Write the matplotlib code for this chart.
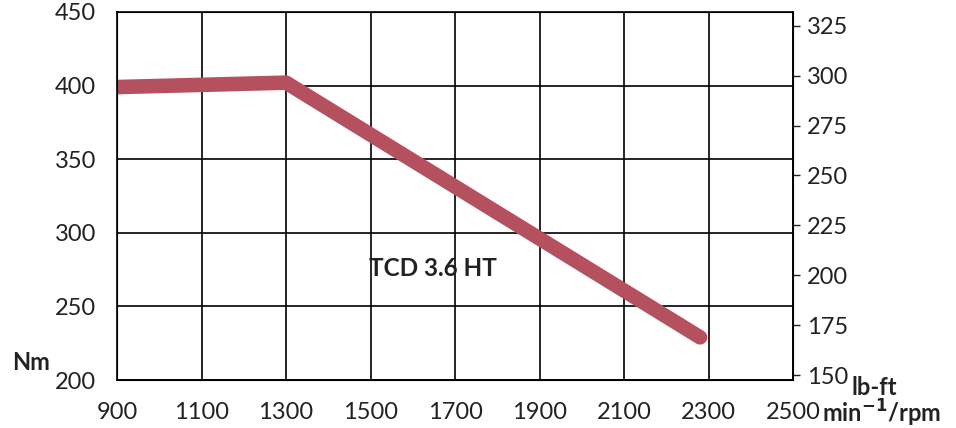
import matplotlib
matplotlib.use("Agg")
import matplotlib.pyplot as plt

plt.rcParams["font.family"] = ["Lato", "DejaVu Sans"]

# torque curve
rpm = [900, 1300, 2280]
torque_nm = [399, 402, 229]

x_ticks = [900, 1100, 1300, 1500, 1700, 1900, 2100, 2300, 2500]
nm_ticks = [200, 250, 300, 350, 400, 450]
lbft_ticks = [150, 175, 200, 225, 250, 275, 300, 325]
NM_TO_LBFT = 0.7376

LINE_COLOR = "#b5505f"
TEXT_COLOR = "#222222"

fig = plt.figure(figsize=(9.56, 4.28), dpi=100)
ax = fig.add_axes([0.1224, 0.1121, 0.7071, 0.8599])

ax.plot(rpm, torque_nm, color=LINE_COLOR, linewidth=10.5,
        solid_capstyle="round", solid_joinstyle="round", zorder=3)

ax.set_xlim(900, 2500)
ax.set_ylim(200, 450)
ax.set_xticks(x_ticks)
ax.set_yticks(nm_ticks)
ax.grid(True, color="black", linewidth=1.2)
ax.tick_params(axis="both", length=0, labelsize=17, colors=TEXT_COLOR)
ax.tick_params(axis="x", pad=16)
ax.tick_params(axis="y", pad=15)
for s in ax.spines.values():
    s.set_linewidth(1.2)

ax2 = ax.twinx()
ax2.set_ylim(200 * NM_TO_LBFT, 450 * NM_TO_LBFT)
ax2.set_yticks(lbft_ticks)
ax2.tick_params(axis="y", length=5, width=1, labelsize=17, pad=5, colors=TEXT_COLOR)

ax.text(1497, 276, "TCD 3.6 HT", fontsize=17.5, fontweight="bold",
        color=TEXT_COLOR, va="center", ha="left")

# unit labels next to the axis ends
fig.text(0.013, 0.152, "Nm", fontsize=17, fontweight="bold", color=TEXT_COLOR,
         va="center", ha="left")
fig.text(0.891, 0.095, "lb-ft", fontsize=17, fontweight="bold", color=TEXT_COLOR,
         va="center", ha="left")
fig.text(0.860, 0.033, r"min$^{\mathbf{-1}}$/rpm", fontsize=17, fontweight="bold",
         color=TEXT_COLOR, va="center", ha="left")

fig.savefig("out.png", dpi=100)
